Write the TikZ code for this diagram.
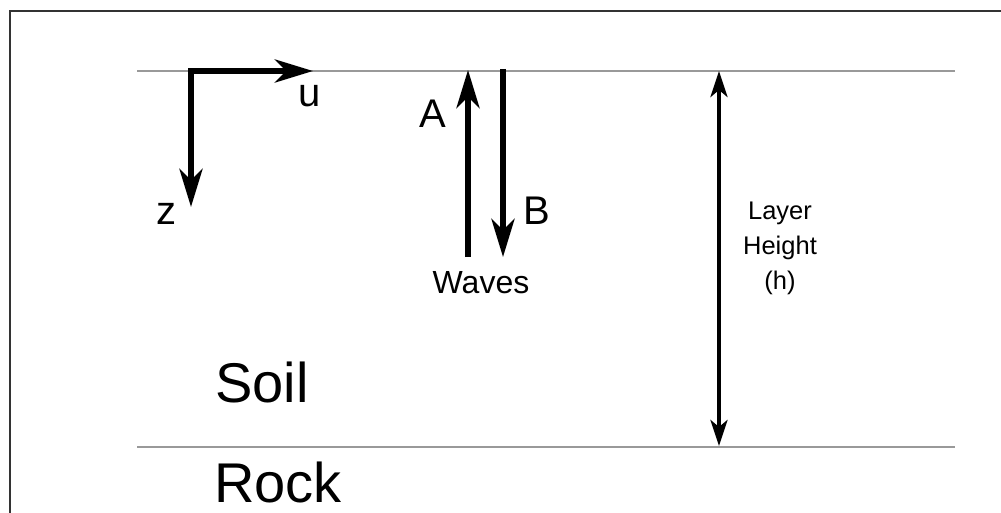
\documentclass[tikz,border=0pt]{standalone}
\usepackage{fontspec}
\setmainfont{Liberation Sans}
\usetikzlibrary{arrows.meta}
\begin{document}
\begin{tikzpicture}[x=1pt,y=-1pt,
  boundary/.style={draw=black!40, line width=1.6pt},
  bigarrow/.style={line width=5.5pt, -{Stealth[length=38pt,width=23pt,inset=11pt]}},
  dimarrow/.style={line width=4pt, {Stealth[length=26pt,width=17pt,inset=7pt]}-{Stealth[length=26pt,width=17pt,inset=7pt]}},
  lbl/.style={anchor=base, inner sep=0pt, font=\fontsize{40}{44}\selectfont},
  biglbl/.style={anchor=base, inner sep=0pt, font=\fontsize{56}{60}\selectfont},
  smalllbl/.style={anchor=base, inner sep=0pt, font=\fontsize{32}{36}\selectfont},
  dimlbl/.style={anchor=base, inner sep=0pt, align=center, font=\fontsize{25.5}{35}\selectfont},
]
\useasboundingbox (0,0) rectangle (1001,513);
\fill[white] (0,0) rectangle (1001,513);
% frame
\draw[line width=2pt, black!80] (9.5,513) -- (9.5,11.5) -- (1001,11.5);
% boundaries
\coordinate (topL) at (137,71);
\coordinate (topR) at (955,71);
\coordinate (botL) at (137,447);
\coordinate (botR) at (955,447);
\draw[boundary] (topL) -- (topR);
\draw[boundary] (botL) -- (botR);
% axes
\coordinate (corner) at (191,71);
\coordinate (uend) at (313,71);
\coordinate (zend) at (191,207);
\draw[bigarrow] ([xshift=-2.75pt]corner) -- (uend);
\draw[bigarrow] (corner) -- (zend);
\node[lbl] (u) at (310,107) {u};
\node[lbl] (z) at (166,225) {z};
% waves
\coordinate (Abot) at (468,257);
\coordinate (Atop) at (468,70);
\coordinate (Btop) at (503,69);
\coordinate (Bbot) at (503,257);
\draw[bigarrow] (Abot) -- (Atop);
\draw[bigarrow] (Btop) -- (Bbot);
\node[lbl] (A) at (433,128) {A};
\node[lbl] (B) at (537,225) {B};
\node[smalllbl] (waves) at (481,293) {Waves};
% layer height
\coordinate (htop) at (719,71);
\coordinate (hbot) at (719,446);
\draw[dimarrow] (htop) -- (hbot);
\node[dimlbl] (h) at (780,289) {Layer\\Height\\(h)};
% materials
\node[biglbl] (soil) at (262,402) {Soil};
\node[biglbl] (rock) at (278,502) {Rock};
\end{tikzpicture}
\end{document}
